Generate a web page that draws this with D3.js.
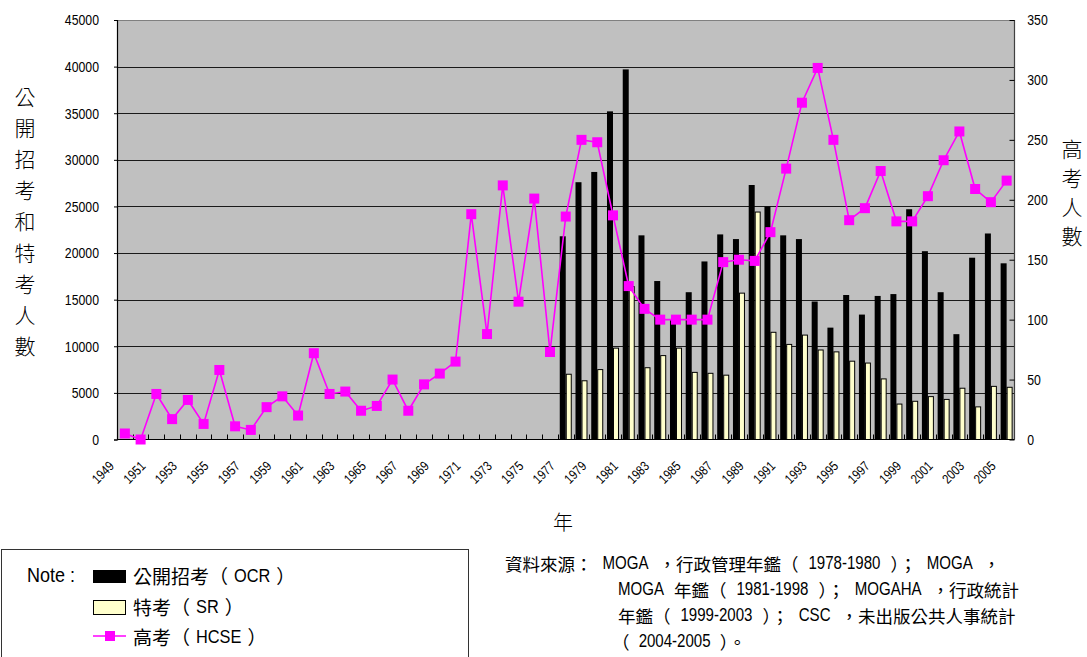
<!DOCTYPE html>
<html>
<head>
<meta charset="utf-8">
<script src="https://cdn.jsdelivr.net/npm/d3@7"></script>
<style>
  html, body { margin: 0; padding: 0; background: #fff; }
  svg { display: block; }
</style>
</head>
<body>
<svg id="chart" width="1087" height="657"></svg>
<script>
// ---- data -------------------------------------------------------------
const years = [1949,1950,1951,1952,1953,1954,1955,1956,1957,1958,1959,1960,
  1961,1962,1963,1964,1965,1966,1967,1968,1969,1970,1971,1972,1973,1974,1975,
  1976,1977,1978,1979,1980,1981,1982,1983,1984,1985,1986,1987,1988,1989,1990,
  1991,1992,1993,1994,1995,1996,1997,1998,1999,2000,2001,2002,2003,2004,2005];

// 高考 (HCSE) candidates, right axis
const hcse = [5,0,38,17,33,13,58,11,8,27,36,20,72,38,40,24,28,50,24,46,
  55,65,188,88,212,115,201,73,186,250,248,187,128,109,
  100,100,100,100,148,150,149,173,226,281,310,250,
  183,193,224,182,182,203,233,257,209,198,216];

// years with 公開招考 / 特考 counts
const barYears = [1977,1978,1979,1980,1981,1982,1983,1984,1985,1986,1987,1988,
  1989,1990,1991,1992,1993,1994,1995,1996,1997,1998,1999,2000,2001,2002,2003,2004,2005];
// 公開招考 (OCR)
const ocr = [21800,27600,28700,35200,39700,21900,17000,12800,15800,19100,
  22000,21500,27300,25000,21900,21500,14800,12000,15500,13400,
  15400,15600,24700,20200,15800,11300,19500,22100,18900];
// 特考 (SR)
const sr = [7000,6300,7500,9800,16400,7700,9000,9800,7200,7100,
  6900,15700,24400,11500,10200,11200,9600,9400,8400,8200,
  6500,3800,4100,4600,4300,5500,3500,5700,5600];

const leftTicks = [0,5000,10000,15000,20000,25000,30000,35000,40000,45000];
const rightTicks = [0,50,100,150,200,250,300,350];
const xLabelYears = years.filter((y, i) => i % 2 === 0);

const leftTitle = "公開招考和特考人數";
const rightTitle = "高考人數";
const xTitle = "年";
const legendNote = "Note :";
const legendItems = ["公開招考（OCR）", "特考（SR）", "高考（HCSE）"];
const sourceLines = [
  "資料來源：MOGA，行政管理年鑑（1978-1980）；MOGA，",
  "MOGA 年鑑（1981-1998）； MOGAHA，行政統計",
  "年鑑（1999-2003）；CSC，未出版公共人事統計",
  "（2004-2005）。"
];

// ---- layout -----------------------------------------------------------
const LATIN = "'Liberation Sans', Arial, sans-serif";
const CJK = "'Noto Sans CJK TC','Noto Sans CJK SC',sans-serif";
const NARROW = 0.82;           // horizontal squeeze for the condensed Latin face
const plot = { left: 117, right: 1014.5, top: 20, bottom: 439.5 };

const svg = d3.select("#chart");

const x = d3.scaleBand().domain(years).range([plot.left, plot.right]).padding(0);
const bw = x.bandwidth();
const cx = yr => x(yr) + bw / 2;
const yL = d3.scaleLinear().domain([0, 45000]).range([plot.bottom, plot.top]);
const yR = d3.scaleLinear().domain([0, 350]).range([plot.bottom, plot.top]);

// plot background
svg.append("rect")
  .attr("x", plot.left).attr("y", plot.top)
  .attr("width", plot.right - plot.left).attr("height", plot.bottom - plot.top)
  .attr("fill", "#C0C0C0");

// horizontal gridlines
svg.append("g").selectAll("line")
  .data(leftTicks.filter(d => d > 0 && d < 45000))
  .join("line")
  .attr("x1", plot.left).attr("x2", plot.right)
  .attr("y1", d => Math.round(yL(d)) + 0.5).attr("y2", d => Math.round(yL(d)) + 0.5)
  .attr("stroke", "#1a1a1a").attr("stroke-width", 1);

// top and right frame
svg.append("line")
  .attr("x1", plot.left).attr("x2", plot.right)
  .attr("y1", plot.top + 0.5).attr("y2", plot.top + 0.5)
  .attr("stroke", "#808080").attr("stroke-width", 1.2);
svg.append("line")
  .attr("x1", plot.right).attr("x2", plot.right)
  .attr("y1", plot.top).attr("y2", plot.bottom)
  .attr("stroke", "#404040").attr("stroke-width", 1.2);

// bars
const barW = 6;
const bars = svg.append("g");
bars.selectAll("rect.ocr")
  .data(barYears.map((yr, i) => ({ yr, v: ocr[i] })))
  .join("rect").attr("class", "ocr")
  .attr("x", d => cx(d.yr) - barW)
  .attr("y", d => yL(d.v))
  .attr("width", barW)
  .attr("height", d => yL(0) - yL(d.v))
  .attr("fill", "#000");
bars.selectAll("rect.sr")
  .data(barYears.map((yr, i) => ({ yr, v: sr[i] })))
  .join("rect").attr("class", "sr")
  .attr("x", d => cx(d.yr) + 0.5)
  .attr("y", d => yL(d.v))
  .attr("width", barW - 1)
  .attr("height", d => yL(0) - yL(d.v))
  .attr("fill", "#FFFFCC")
  .attr("stroke", "#000").attr("stroke-width", 1);

// left axis
const axL = svg.append("g")
  .attr("transform", `translate(${plot.left},0)`)
  .call(d3.axisLeft(yL).tickValues(leftTicks).tickSize(3).tickPadding(19).tickFormat(d => d));
axL.select(".domain").attr("stroke", "#000").attr("stroke-width", 1.2);
axL.selectAll("text")
  .attr("font-family", LATIN).attr("font-size", 15).attr("fill", "#000")
  .attr("transform", `scale(${NARROW},1)`);

// right axis (ticks point into the plot)
const axR = svg.append("g")
  .attr("transform", `translate(${plot.right},0)`)
  .call(d3.axisRight(yR).tickValues(rightTicks).tickSize(-5).tickPadding(15.5).tickFormat(d => d));
axR.select(".domain").remove();
axR.selectAll("line").attr("stroke", "#000");
axR.selectAll("text")
  .attr("font-family", LATIN).attr("font-size", 15).attr("fill", "#000")
  .attr("transform", `scale(${NARROW},1)`);

// category axis: baseline, inward ticks at band edges, slanted year labels
svg.append("line")
  .attr("x1", plot.left).attr("x2", plot.right)
  .attr("y1", plot.bottom).attr("y2", plot.bottom)
  .attr("stroke", "#000").attr("stroke-width", 1.2);
svg.append("g").selectAll("line")
  .data(years.slice(1))
  .join("line")
  .attr("x1", d => Math.round(x(d)) + 0.5).attr("x2", d => Math.round(x(d)) + 0.5)
  .attr("y1", plot.bottom - 5).attr("y2", plot.bottom)
  .attr("stroke", "#000");
svg.append("g").selectAll("text")
  .data(xLabelYears)
  .join("text")
  .attr("transform", d => `translate(${cx(d) - 10},467) rotate(-45) scale(${NARROW},1)`)
  .attr("text-anchor", "end")
  .attr("font-family", LATIN).attr("font-size", 13.5)
  .text(d => d);

// HCSE line and square markers
const hcsePts = years.map((yr, i) => ({ yr, v: hcse[i] }));
svg.append("path")
  .datum(hcsePts)
  .attr("d", d3.line().x(d => cx(d.yr)).y(d => yR(d.v)))
  .attr("fill", "none").attr("stroke", "#FF00FF").attr("stroke-width", 1.6);
const mk = 10;
svg.append("g").selectAll("rect")
  .data(hcsePts)
  .join("rect")
  .attr("x", d => cx(d.yr) - mk / 2)
  .attr("y", d => yR(d.v) - mk / 2)
  .attr("width", mk).attr("height", mk)
  .attr("fill", "#FF00FF");

// axis titles (stacked vertical characters)
svg.append("g").selectAll("text")
  .data(Array.from(leftTitle))
  .join("text")
  .attr("x", 25).attr("y", (d, i) => 96 + i * 31.1)
  .attr("text-anchor", "middle").attr("dominant-baseline", "central")
  .attr("font-family", CJK).attr("font-size", 21).attr("font-weight", 300)
  .text(d => d);
svg.append("g").selectAll("text")
  .data(Array.from(rightTitle))
  .join("text")
  .attr("x", 1072).attr("y", (d, i) => 148 + i * 29)
  .attr("text-anchor", "middle").attr("dominant-baseline", "central")
  .attr("font-family", CJK).attr("font-size", 21).attr("font-weight", 300)
  .text(d => d);
svg.append("text")
  .attr("x", 563).attr("y", 521)
  .attr("text-anchor", "middle").attr("dominant-baseline", "central")
  .attr("font-family", CJK).attr("font-size", 20).attr("font-weight", 300)
  .text(xTitle);

// Mixed Chinese / Latin line: CJK runs in the CJK face, Latin runs in a
// condensed Latin face, with small even gaps between the two scripts.
function mixedLine(parent, str, x0, y0, fs, targetW, maxGap) {
  const runs = [];
  str.split(/(\s*[A-Za-z0-9\-.]+\s*)/).forEach(s => {
    if (!s) return;
    if (/[A-Za-z0-9]/.test(s)) runs.push({ t: s.trim(), latin: true });
    else runs.push({ t: s, latin: false });
  });
  const t = parent.append("text")
    .attr("x", x0).attr("y", y0)
    .attr("dominant-baseline", "central")
    .attr("font-size", fs).attr("fill", "#000");
  const spans = runs.map(r => t.append("tspan")
    .attr("font-family", r.latin ? LATIN : CJK)
    .text(r.t));
  spans.forEach((s, i) => {
    if (runs[i].latin) {
      const w = s.node().getComputedTextLength();
      s.attr("textLength", w * 0.86).attr("lengthAdjust", "spacingAndGlyphs");
    }
  });
  const gapIdx = [];
  runs.forEach((r, i) => {
    if (r.latin) {
      if (i > 0) gapIdx.push(i);
      if (i + 1 < runs.length) gapIdx.push(i + 1);
    }
  });
  const w0 = t.node().getBBox().width;
  const gap = gapIdx.length ? Math.min(maxGap, Math.max(0, (targetW - w0) / gapIdx.length)) : 0;
  gapIdx.forEach(i => spans[i].attr("dx", gap));
  return t;
}

// legend box
const lg = svg.append("g");
lg.append("rect")
  .attr("x", 1.5).attr("y", 549.5).attr("width", 467).attr("height", 120)
  .attr("fill", "#fff").attr("stroke", "#333").attr("stroke-width", 1);
lg.append("text")
  .attr("transform", "translate(27,575) scale(0.9,1)")
  .attr("dominant-baseline", "central")
  .attr("font-family", LATIN).attr("font-size", 20).text(legendNote);
const rowY = [575, 606, 636];
lg.append("rect").attr("x", 93).attr("y", 570).attr("width", 33).attr("height", 13).attr("fill", "#000");
lg.append("rect").attr("x", 93.5).attr("y", 600.5).attr("width", 32).attr("height", 14)
  .attr("fill", "#FFFFCC").attr("stroke", "#000");
lg.append("line").attr("x1", 93).attr("x2", 126).attr("y1", 636).attr("y2", 636)
  .attr("stroke", "#FF00FF").attr("stroke-width", 1.6);
lg.append("rect").attr("x", 105).attr("y", 631).attr("width", 10).attr("height", 10).attr("fill", "#FF00FF");
const legendW = [168, 112, 138];
legendItems.forEach((s, i) => mixedLine(lg, s, 133, rowY[i], 19, legendW[i], 6));

// source note
const srcX = [505, 618, 618, 612];
const srcY = [563, 589, 615, 641];
const srcW = [555, 445, 445, 134];
const src = svg.append("g");
sourceLines.forEach((s, i) => mixedLine(src, s, srcX[i], srcY[i], 17.5, srcW[i], 10));
</script>
</body>
</html>
